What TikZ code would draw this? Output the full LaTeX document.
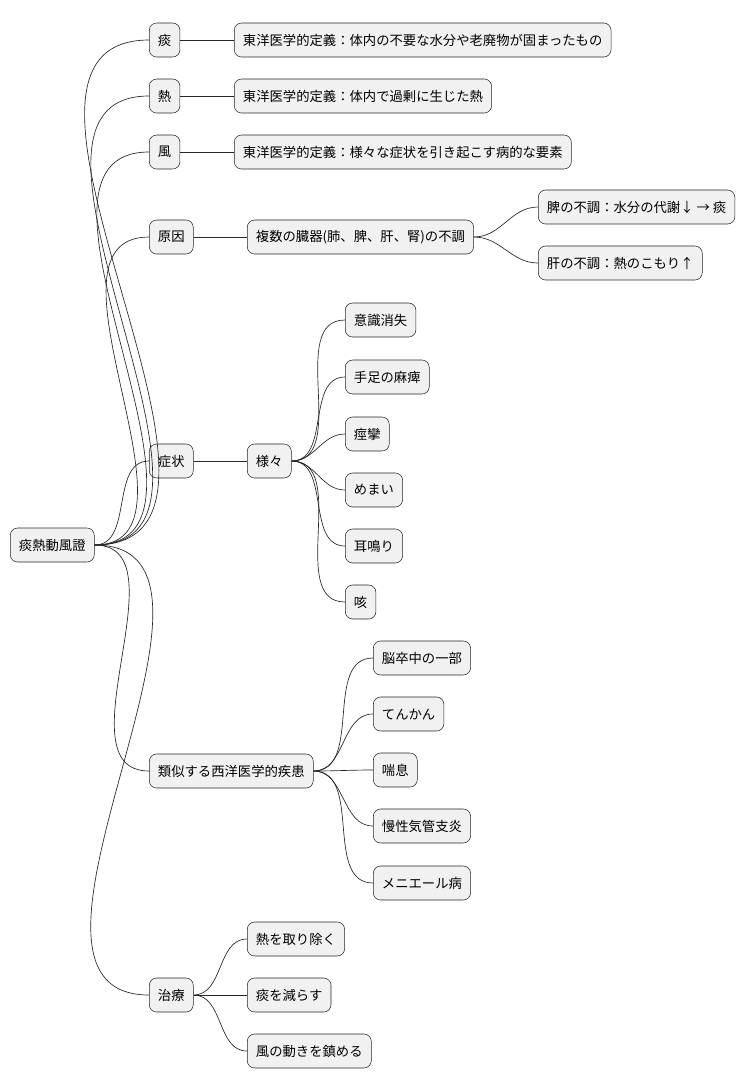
\documentclass[tikz,border=0pt]{standalone}
\usepackage{fontspec}
\setmainfont{Noto Sans CJK JP}
\definecolor{boxfill}{HTML}{F1F1F1}
\tikzset{
  topic/.style={draw=black!85, fill=boxfill, rounded corners=5.5pt, anchor=west,
    minimum height=25.5pt, inner xsep=6.5pt, font=\fontsize{10}{12}\selectfont},
  link/.style={draw=black!85, line width=0.5pt}
}
\begin{document}
\begin{tikzpicture}[x=0.75pt,y=-0.75pt]
\useasboundingbox (0,0) rectangle (756,1090);

% Racine et premier niveau
\node[topic] (root) at (10,545) {痰熱動風證};
\node[topic] (tan) at (149,40) {痰};
\node[topic] (netsu) at (149,96) {熱};
\node[topic] (fu) at (149,152) {風};
\node[topic] (gen) at (149,237) {原因};
\node[topic] (sho) at (149,461) {症状};
\node[topic] (rui) at (149,771) {類似する西洋医学的疾患};
\node[topic] (chi) at (149,995) {治療};

% Definitions
\node[topic] (tanD) at (234,40) {東洋医学的定義：体内の不要な水分や老廃物が固まったもの};
\node[topic] (netsuD) at (234,96) {東洋医学的定義：体内で過剰に生じた熱};
\node[topic] (fuD) at (234,152) {東洋医学的定義：様々な症状を引き起こす病的な要素};

% Cause
\node[topic] (genA) at (247,237) {複数の臓器(肺、脾、肝、腎)の不調};
\node[topic] (genB) at (538,207) {脾の不調：水分の代謝↓ → 痰};
\node[topic] (genC) at (538,263) {肝の不調：熱のこもり↑};

% Symptomes
\node[topic] (shoA) at (247,461) {様々};
\foreach \t/\y [count=\i] in {意識消失/320, 手足の麻痺/377, 痙攣/434, めまい/490, 耳鳴り/546, 咳/602}
  \node[topic] (s\i) at (345,\y) {\t};

% Maladies semblables
\foreach \t/\y [count=\i] in {脳卒中の一部/658, てんかん/714, 喘息/770, 慢性気管支炎/826, メニエール病/883}
  \node[topic] (r\i) at (373,\y) {\t};

% Traitement
\foreach \t/\y [count=\i] in {熱を取り除く/939, 痰を減らす/995, 風の動きを鎮める/1051}
  \node[topic] (c\i) at (247,\y) {\t};

% Liens
\foreach \n in {tan,netsu,fu,gen,sho,rui,chi}
  \draw[link] (root.east) to[out=0,in=180] (\n.west);
\draw[link] (tan) -- (tanD);
\draw[link] (netsu) -- (netsuD);
\draw[link] (fu) -- (fuD);
\draw[link] (gen) -- (genA);
\draw[link] (genA.east) to[out=0,in=180] (genB.west);
\draw[link] (genA.east) to[out=0,in=180] (genC.west);
\draw[link] (sho) -- (shoA);
\foreach \i in {1,...,6}
  \draw[link] (shoA.east) to[out=0,in=180] (s\i.west);
\foreach \i in {1,...,5}
  \draw[link] (rui.east) to[out=0,in=180] (r\i.west);
\foreach \i in {1,...,3}
  \draw[link] (chi.east) to[out=0,in=180] (c\i.west);

\end{tikzpicture}
\end{document}
